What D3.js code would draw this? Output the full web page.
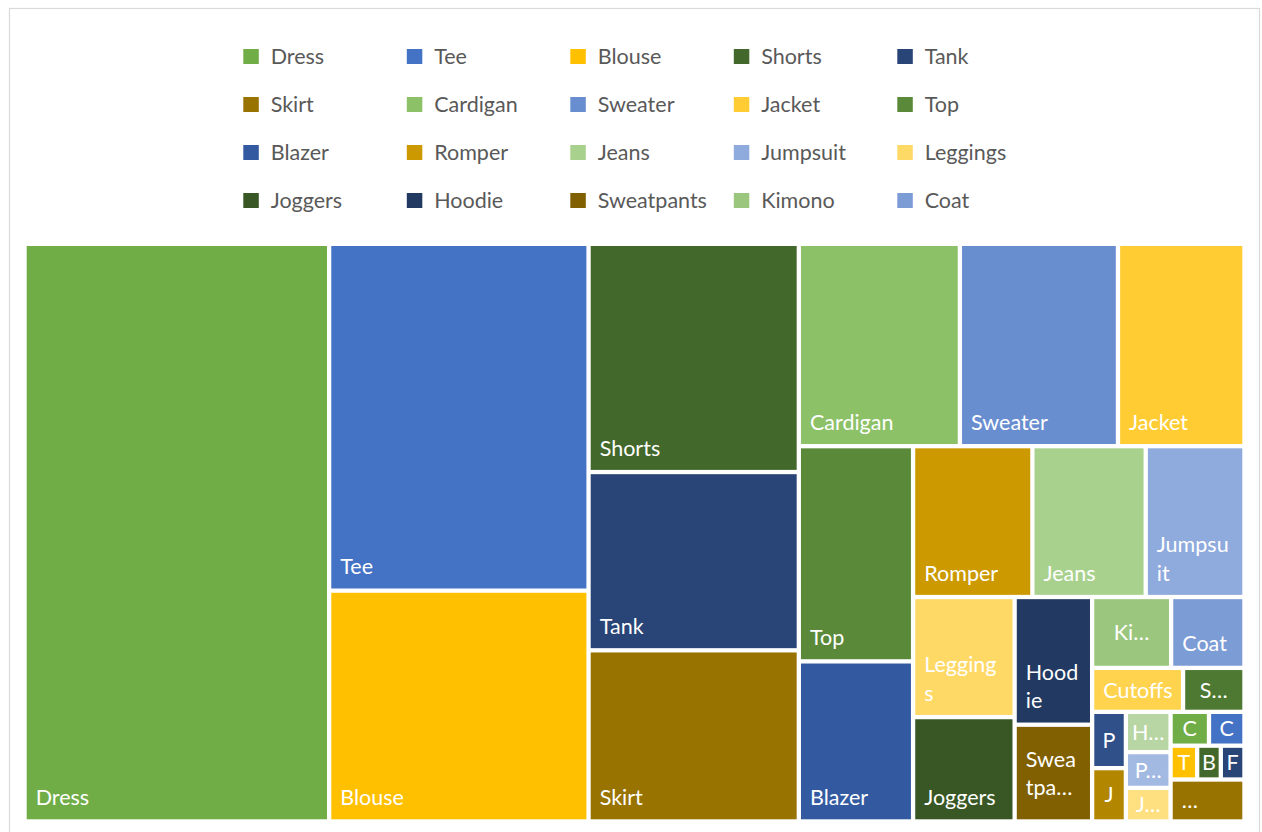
<!DOCTYPE html>
<html>
<head>
<meta charset="utf-8">
<script src="https://cdn.jsdelivr.net/npm/d3@7"></script>
<style>
  html, body { margin: 0; padding: 0; background: #ffffff; }
  svg { display: block; font-family: Lato, "Open Sans", "Liberation Sans", sans-serif; }
</style>
</head>
<body>
<svg id="chart" width="1262" height="832"></svg>
<script>
// ---- data -------------------------------------------------------------
const categories = [
  "Dress", "Tee", "Blouse", "Shorts", "Tank", "Skirt", "Cardigan", "Sweater",
  "Jacket", "Top", "Blazer", "Romper", "Jeans", "Jumpsuit", "Leggings", "Joggers",
  "Hoodie", "Sweatpants", "Kimono", "Coat", "Cutoffs", "Sweatshirt", "Parka",
  "Jersey", "Henley", "Poncho", "Jeggings", "Capris", "Cami", "Tunic", "Bodysuit",
  "Fleece", "…"
];
const values = [
  1760, 900, 599, 480, 375, 360, 326, 320,
  256, 246, 183, 180, 171, 149, 122, 106,
  99, 75, 56, 52, 40, 27, 19,
  18, 18, 16, 15, 13, 12, 9, 8,
  8, 31
];
const colors = [
  "#70AD47", "#4472C4", "#FFC000", "#43682B", "#294476", "#997300",
  "#8CC168", "#698ED0", "#FFCD33", "#5A8A39", "#335AA1", "#CC9A00",
  "#A9D18E", "#8FAADC", "#FFD966", "#385724", "#223962", "#806000",
  "#9BC67E", "#7C9CD6", "#FFD34D", "#4E7932", "#305089", "#B38600",
  "#B8D6A3", "#A2B9E2", "#FFE080", "#70AD47", "#4472C4", "#FFC000",
  "#43682B", "#294476", "#997300"
];
const legendCount = 20;   // entries shown in the legend

// ---- layout constants ---------------------------------------------------
const plot = { x: 26.7, y: 246, w: 1215.6, h: 573.3 };
const GAP = 4.3;
// number of cells laid along each successive strip of the treemap
const STRIP_SIZES = [1, 2, 3, 3, 2, 3, 2, 2, 2, 2, 2, 3, 2, 3, 1];

const FONT_SIZE = 21.5;
const LINE_H = 28.4;
const PAD = 9;
const BASE_OFF = 14.3;
const CAP = 15.3;

const svg = d3.select("#chart");

// chart frame
svg.append("rect")
  .attr("x", 9.5).attr("y", 8.5)
  .attr("width", 1250).attr("height", 840)
  .attr("fill", "#ffffff")
  .attr("stroke", "#D9D9D9").attr("stroke-width", 1.2);

// ---- treemap ------------------------------------------------------------
// strips are filled in order; each strip runs along the shorter side of the
// space that is still free, like a squarified layout.
function stripTile(parent, x0, y0, x1, y1) {
  const nodes = parent.children;
  let remaining = parent.value;
  let i0 = 0;
  for (const n of STRIP_SIZES) {
    if (i0 >= nodes.length) break;
    const kids = nodes.slice(i0, i0 + n);
    const row = { children: kids, value: d3.sum(kids, d => d.value) };
    const dx = x1 - x0, dy = y1 - y0;
    if (dx < dy) {
      const yy = remaining ? y0 + dy * row.value / remaining : y1;
      d3.treemapDice(row, x0, y0, x1, yy);
      y0 = yy;
    } else {
      const xx = remaining ? x0 + dx * row.value / remaining : x1;
      d3.treemapSlice(row, x0, y0, xx, y1);
      x0 = xx;
    }
    remaining -= row.value;
    i0 += n;
  }
}

const root = d3.hierarchy({
  children: categories.map((name, i) => ({ name, value: values[i], color: colors[i] }))
}).sum(d => d.value || 0);

d3.treemap()
  .size([plot.w, plot.h])
  .paddingInner(GAP)
  .tile(stripTile)(root);

const g = svg.append("g").attr("transform", `translate(${plot.x},${plot.y})`);

const cells = g.selectAll("g.cell")
  .data(root.leaves())
  .join("g")
  .attr("class", "cell");

cells.append("rect")
  .attr("x", d => d.x0)
  .attr("y", d => d.y0)
  .attr("width", d => Math.max(0, d.x1 - d.x0))
  .attr("height", d => Math.max(0, d.y1 - d.y0))
  .attr("fill", d => d.data.color);

// ---- labels -------------------------------------------------------------
const meas = svg.append("text")
  .attr("font-size", FONT_SIZE)
  .attr("x", -1000).attr("y", -1000);
function textWidth(s) { meas.text(s); return meas.node().getComputedTextLength(); }

// character-level wrapping inside the available width
function wrapText(name, aw) {
  if (textWidth(name) <= aw + 1) return [name];   // a whole name may touch the padding
  const lines = [];
  let cur = "";
  for (const ch of name) {
    const next = cur + ch;
    if (cur && textWidth(next) > aw) { lines.push(cur); cur = ch.trim() ? ch : ""; }
    else cur = next;
  }
  if (cur) lines.push(cur);
  return lines;
}

function labelLayout(d) {
  const w = d.x1 - d.x0, h = d.y1 - d.y0, name = d.data.name;
  const aw = w - 2 * PAD;
  const lines = wrapText(name, aw);
  const fitLines = Math.floor((h - 12) / LINE_H);
  const m = Math.max(1, fitLines);
  const cy = (d.y0 + d.y1) / 2;
  const centred = n => d3.range(n).map(i => cy + (i - (n - 1) / 2) * LINE_H + CAP / 2);

  if (lines.length <= m && lines.every(l => textWidth(l) <= aw + 1)) {
    const ys = fitLines >= 1
      ? lines.map((l, i) => d.y1 - BASE_OFF - (lines.length - 1 - i) * LINE_H)
      : centred(lines.length);
    return lines.map((t, i) => ({ t, x: d.x0 + PAD, y: ys[i], anchor: "start" }));
  }

  // too long: keep what fits and close the last line with an ellipsis
  const out = lines.slice(0, m - 1);
  const last = lines[m - 1];
  let t = "";
  for (let k = last.length - 1; k >= 1; k--) {
    const s = last.slice(0, k) + "…";
    if (textWidth(s) <= aw - 6) { t = s; break; }
  }
  if (!t) {
    const first = last[0];
    t = textWidth(first + "…") <= w - 6 ? first + "…" : first;
  }
  out.push(t);
  const ys = centred(out.length);
  if (out.length > 1) {
    return out.map((s, i) => ({ t: s, x: d.x0 + PAD, y: ys[i], anchor: "start" }));
  }
  return [{ t: out[0], x: (d.x0 + d.x1) / 2, y: ys[0], anchor: "middle" }];
}

cells.each(function (d) {
  const items = labelLayout(d);
  d3.select(this).selectAll("text")
    .data(items)
    .join("text")
    .attr("x", p => p.x)
    .attr("y", p => p.y)
    .attr("text-anchor", p => p.anchor)
    .attr("font-size", FONT_SIZE)
    .attr("fill", "#ffffff")
    .text(p => p.t);
});
meas.remove();

// ---- legend -------------------------------------------------------------
const legend = svg.append("g").attr("class", "legend");
const legendItems = legend.selectAll("g")
  .data(categories.slice(0, legendCount).map((name, i) => ({ name, color: colors[i], i })))
  .join("g")
  .attr("transform", d => `translate(${243.3 + (d.i % 5) * 163.5},${49 + Math.floor(d.i / 5) * 48})`);

legendItems.append("rect")
  .attr("width", 15.5).attr("height", 15)
  .attr("fill", d => d.color);

legendItems.append("text")
  .attr("x", 27.4).attr("y", 15)
  .attr("font-size", FONT_SIZE)
  .attr("fill", "#595959")
  .text(d => d.name);
</script>
</body>
</html>
